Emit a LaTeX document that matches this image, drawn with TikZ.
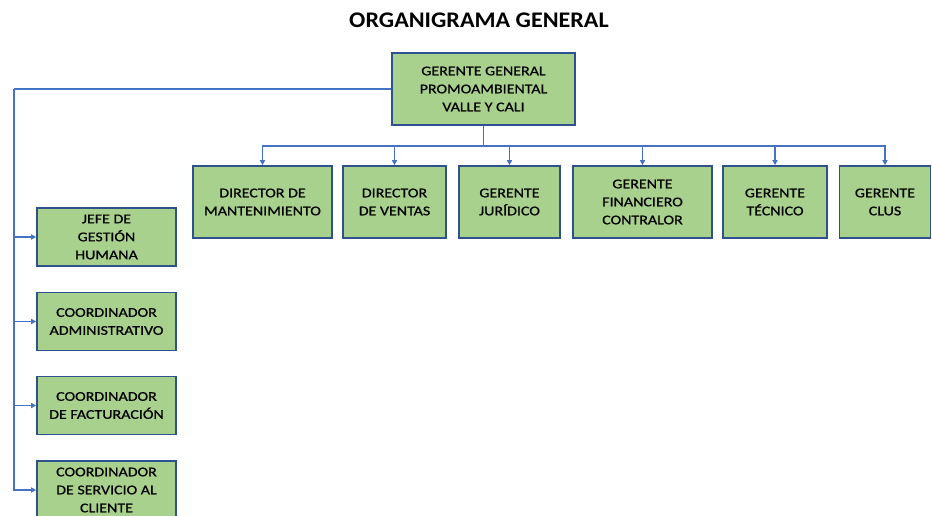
\documentclass[tikz,border=0pt]{standalone}
\usepackage{fontspec}
\setmainfont{Carlito}
\newfontfamily\boxfont[FakeStretch=1.2,FakeBold=0.8]{Carlito}
\newfontfamily\titlefont[FakeStretch=1.08]{Carlito Bold}
\usetikzlibrary{arrows.meta}
\definecolor{boxgreen}{HTML}{A9D18E}
\definecolor{boxblue}{HTML}{2F528F}
\definecolor{linkblue}{HTML}{4472C4}

\begin{document}
\begin{tikzpicture}[x=1pt,y=-1pt]
\tikzset{
% boxes of the chart and the lines between them
cargo/.style={rectangle,draw=boxblue,fill=boxgreen,line width=1.6pt,align=center,
  font=\boxfont\fontsize{13.3}{18}\selectfont,inner sep=0pt},
link/.style={draw=linkblue,line width=1.5pt},
linkto/.style={link,-{Triangle[length=5pt,width=5pt]}}
}
\clip (0,0) rectangle (932,516);

% title
\node(titulo) at (479,20) {\titlefont\fontsize{22.3}{24}\selectfont ORGANIGRAMA GENERAL};

% top of the chart
\node(gg)[cargo,minimum width=183pt,minimum height=72pt] at (483.5,89)
  {GERENTE GENERAL\\PROMOAMBIENTAL\\VALLE Y CALI};

% first row
\node(mant)[cargo,minimum width=139pt,minimum height=72pt] at (262.5,202) {DIRECTOR DE\\MANTENIMIENTO};
\node(vent)[cargo,minimum width=103pt,minimum height=72pt] at (394.5,202) {DIRECTOR\\DE VENTAS};
\node(jur)[cargo,minimum width=101pt,minimum height=72pt] at (509.5,202) {GERENTE\\JURÍDICO};
\node(fin)[cargo,minimum width=139pt,minimum height=72pt] at (642.5,202) {GERENTE\\FINANCIERO\\CONTRALOR};
\node(tec)[cargo,minimum width=104pt,minimum height=72pt] at (775,202) {GERENTE\\TÉCNICO};
\node(clus)[cargo,minimum width=91pt,minimum height=72pt] at (885,202) {GERENTE\\CLUS};

% left column
\node(gh)[cargo,minimum width=139pt,minimum height=58pt] at (106.5,237) {JEFE DE\\GESTIÓN\\HUMANA};
\node(adm)[cargo,minimum width=139pt,minimum height=58pt] at (106.5,321.5) {COORDINADOR\\ADMINISTRATIVO};
\node(fac)[cargo,minimum width=139pt,minimum height=58pt] at (106.5,405.5) {COORDINADOR\\DE FACTURACIÓN};
\node(sac)[cargo,minimum width=139pt,minimum height=58pt] at (106.5,490) {COORDINADOR\\DE SERVICIO AL\\CLIENTE};

% lines to the first row
\coordinate(bus) at (483.5,146);
\draw[link] (gg.south) -- (bus);
\foreach \n in {mant,vent,jur,fin,tec,clus}
  \draw[linkto] (bus) -| (\n.north);

% lines to the left column
\coordinate(izq) at (14,89);
\draw[link] (gg.west) -- (izq);
\foreach \n in {gh,adm,fac,sac}
  \draw[linkto] (izq) |- (\n.west);
\end{tikzpicture}
\end{document}
